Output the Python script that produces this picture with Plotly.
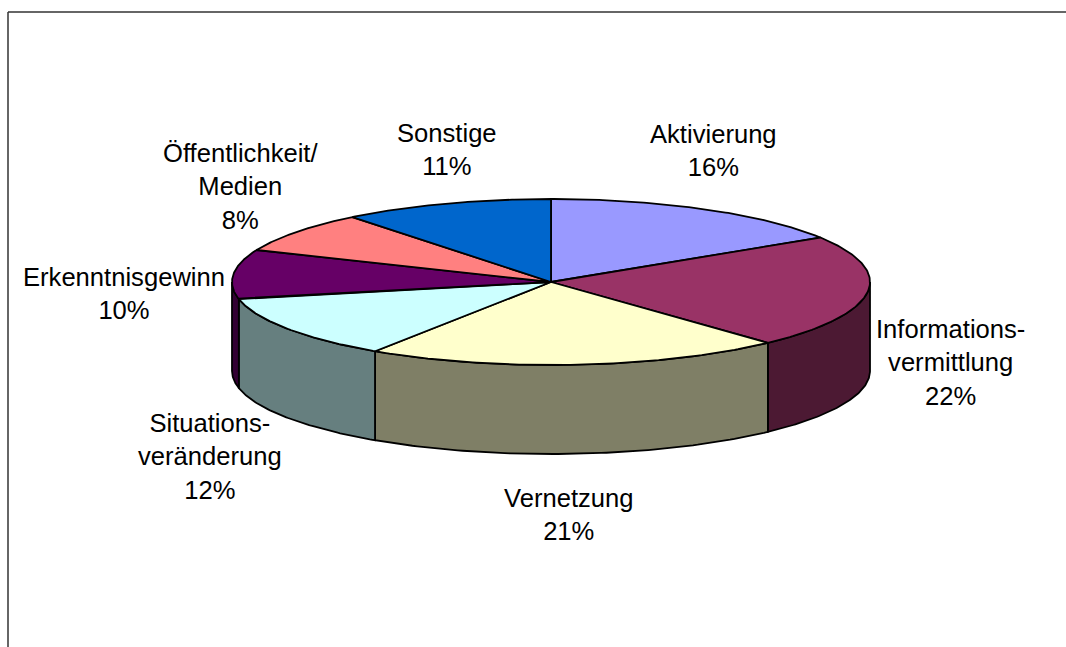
import numpy as np
import plotly.graph_objects as go

categories = ["Aktivierung", "Informations-<br>vermittlung", "Vernetzung", "Situations-<br>veränderung",
              "Erkenntnisgewinn", "Öffentlichkeit/<br>Medien", "Sonstige"]
values = [16.0, 22.1, 21.2, 12.4, 9.6, 8.0, 10.7]
top_colors = ["#9999FF", "#993366", "#FFFFCC", "#CCFFFF", "#660066", "#FF8080", "#0066CC"]
side_colors = ["#4C4C7F", "#4C1933", "#7F7F66", "#667F7F", "#330033", "#7F4040", "#003366"]

label_x = [713, 950, 569, 210, 124, 240, 447]
label_y = [150, 362, 514, 456, 293, 186, 149]

CX, CY, A, B, DEPTH = 551, 282, 319, 83, 89


def ex(t):
    return CX + A * np.sin(np.radians(t))


def ey(t, d=0):
    return CY - B * np.cos(np.radians(t)) + d


fig = go.Figure()
edges = np.cumsum([0] + values) / sum(values) * 360

# side walls: only the front half of the disc is visible
for i, val in enumerate(values):
    lo, hi = max(edges[i], 90), min(edges[i + 1], 270)
    if hi <= lo:
        continue
    t = np.linspace(lo, hi, 80)
    xs = np.r_[ex(t), ex(t[::-1]), ex(t[0])]
    ys = np.r_[ey(t), ey(t[::-1], DEPTH), ey(t[0])]
    fig.add_trace(go.Scatter(x=xs, y=ys, mode="lines", fill="toself", fillcolor=side_colors[i],
                             line=dict(color="black", width=1.8), hoverinfo="skip", showlegend=False))

# top face
for i, val in enumerate(values):
    t = np.linspace(edges[i], edges[i + 1], 100)
    xs = np.r_[CX, ex(t), CX]
    ys = np.r_[CY, ey(t), CY]
    fig.add_trace(go.Scatter(x=xs, y=ys, mode="lines", fill="toself", fillcolor=top_colors[i],
                             line=dict(color="black", width=1.8), hoverinfo="text",
                             text=f"{categories[i].replace('<br>', ' ')}: {round(val)}%", showlegend=False))

annotations = [dict(x=lx, y=ly, xref="x", yref="y", text=f"{c}<br>{round(v)}%", showarrow=False,
                    xanchor="center", yanchor="middle", align="center",
                    font=dict(family="Liberation Sans, Arial, sans-serif", size=25.6, color="black"))
               for c, v, lx, ly in zip(categories, values, label_x, label_y)]

frame = dict(type="line", xref="x", yref="y", line=dict(color="#333333", width=1.5))
shapes = [dict(frame, x0=8, y0=12, x1=1066, y1=12), dict(frame, x0=8, y0=12, x1=8, y1=647)]

fig.update_layout(
    width=1066, height=647, margin=dict(l=0, r=0, t=0, b=0),
    paper_bgcolor="white", plot_bgcolor="white",
    xaxis=dict(range=[0, 1066], visible=False, fixedrange=True),
    yaxis=dict(range=[647, 0], visible=False, fixedrange=True),
    annotations=annotations, shapes=shapes,
)
fig.write_html("out.html", config=dict(displayModeBar=False),
               post_script="document.body.style.margin='0';document.documentElement.style.overflow='hidden';")
